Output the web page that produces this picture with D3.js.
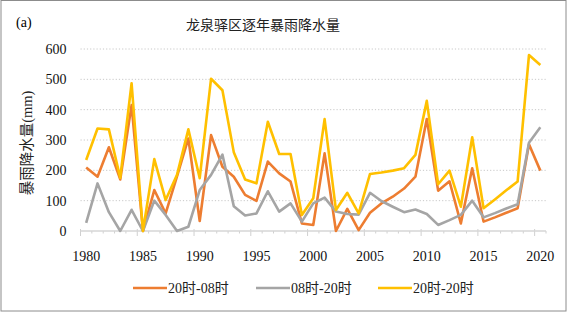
<!DOCTYPE html>
<html>
<head>
<meta charset="utf-8">
<script src="https://cdn.jsdelivr.net/npm/d3@7"></script>
<style>
  body { margin: 0; background: #fff; }
  svg { display: block; }
</style>
</head>
<body>
<div id="grafica"></div>
<script>
// datos
anios = d3.range(1980, 2021)
xTicks = [1980, 1985, 1990, 1995, 2000, 2005, 2010, 2015, 2020]
yTicks = [0, 100, 200, 300, 400, 500, 600]

serie_20_08 = [209, 179, 276, 170, 415, 0, 135, 58, 180, 305,
               33, 316, 212, 179, 119, 99, 229, 190, 163, 25,
               20, 256, 0, 73, 3, 60, 91, 113, 140, 179,
               369, 133, 164, 25, 207, 31, 45, 60, 75, 286, 199]
serie_08_20 = [27, 157, 62, 0, 70, 0, 100, 53, 0, 14,
               135, 185, 252, 82, 51, 58, 131, 64, 91, 31,
               91, 110, 64, 56, 54, 126, 99, 80, 62, 71,
               56, 20, 36, 53, 100, 45, 59, 74, 88, 291, 342]
serie_20_20 = [234, 338, 335, 175, 487, 0, 237, 102, 185, 335,
               174, 502, 464, 260, 170, 157, 360, 254, 254, 53,
               108, 369, 69, 126, 58, 188, 193, 199, 207, 251,
               429, 154, 199, 80, 309, 75, 104, 134, 163, 580, 547]

nombres = ['20时-08时', '08时-20时', '20时-20时']
colores = ['#ED7D31', '#A5A5A5', '#FFC000']
series = [serie_20_08, serie_08_20, serie_20_20]

ancho_total = 567
alto_total = 312
margin = { left: 80.5, right: 21, top: 49, bottom: 81 }
ancho = ancho_total - margin.left - margin.right
alto = alto_total - margin.top - margin.bottom

fuente = "'Liberation Serif', 'Noto Sans CJK SC', serif"

svg = d3.select('#grafica')
        .append('svg')
        .attr('width', ancho_total)
        .attr('height', alto_total)

// marco
svg.append('rect')
   .attr('x', 1).attr('y', 0.5)
   .attr('width', ancho_total - 2).attr('height', alto_total - 1.5)
   .attr('fill', 'none')
   .attr('stroke', '#8c8c8c')

svg.append('text')
   .attr('x', 16).attr('y', 27)
   .attr('font-family', fuente)
   .attr('font-size', '14px')
   .text('(a)')

svg.append('text')
   .attr('x', 263).attr('y', 30)
   .attr('text-anchor', 'middle')
   .attr('font-family', fuente)
   .attr('font-size', '14px')
   .attr('fill', '#222')
   .text('龙泉驿区逐年暴雨降水量')

svg.append('text')
   .attr('transform', 'translate(32,143) rotate(-90)')
   .attr('text-anchor', 'middle')
   .attr('font-family', fuente)
   .attr('font-size', '14.5px')
   .attr('fill', '#222')
   .text('暴雨降水量(mm)')

g = svg.append('g')
       .attr('transform', 'translate(' + margin.left + ',' + margin.top + ')')

x = d3.scaleBand()
      .domain(anios)
      .range([0, ancho])
      .padding(0)
y = d3.scaleLinear()
      .domain([0, 600])
      .range([alto, 0])

cx = (d) => x(d) + x.bandwidth() / 2

// rejilla punteada
g.append('g')
 .selectAll('line')
 .data(yTicks.filter((d) => d > 0))
 .enter()
 .append('line')
   .attr('x1', 0).attr('x2', ancho)
   .attr('y1', (d) => y(d)).attr('y2', (d) => y(d))
   .attr('stroke', '#C8C8C8')
   .attr('stroke-width', 1)
   .attr('stroke-dasharray', '1.2,2')

// eje Y
yAxisCall = d3.axisLeft(y).tickValues(yTicks).tickSize(0).tickPadding(14)
yGroup = g.append('g').call(yAxisCall)
yGroup.select('.domain').remove()
yGroup.selectAll('text')
      .attr('font-family', fuente)
      .attr('font-size', '14px')
      .attr('fill', '#111')

// eje X
xAxisCall = d3.axisBottom(x).tickValues(xTicks).tickSize(0).tickPadding(20)
xGroup = g.append('g')
          .attr('transform', `translate(0, ${alto})`)
          .call(xAxisCall)
xGroup.select('.domain').remove()
xGroup.selectAll('text')
      .attr('font-family', fuente)
      .attr('font-size', '14px')
      .attr('fill', '#111')

bordes = anios.map((d) => x(d)).concat([ancho])
g.append('g')
 .selectAll('line')
 .data(bordes)
 .enter()
 .append('line')
   .attr('x1', (d) => d).attr('x2', (d) => d)
   .attr('y1', (d, i) => i % 5 == 0 && i < anios.length ? alto - 2 : alto)
   .attr('y2', (d, i) => i % 5 == 0 && i < anios.length ? alto + 5 : alto + 2.5)
   .attr('stroke', '#D0D0D0')
   .attr('stroke-width', 1)

g.append('line')
 .attr('x1', 0).attr('x2', ancho)
 .attr('y1', alto).attr('y2', alto)
 .attr('stroke', '#D6D6D6')
 .attr('stroke-width', 1.4)

// lineas
linea = d3.line()
          .x((d, i) => cx(anios[i]))
          .y((d) => y(d))

g.selectAll('path.serie')
 .data(series)
 .enter()
 .append('path')
   .attr('class', 'serie')
   .attr('d', (d) => linea(d))
   .attr('fill', 'none')
   .attr('stroke', (d, i) => colores[i])
   .attr('stroke-width', 2.6)
   .attr('stroke-linejoin', 'round')

// leyenda
leyendaX = [133, 256, 378]
leyenda = svg.selectAll('g.leyenda')
             .data(nombres)
             .enter()
             .append('g')
               .attr('class', 'leyenda')
               .attr('transform', (d, i) => 'translate(' + leyendaX[i] + ',288)')
leyenda.append('line')
       .attr('x1', 0).attr('x2', 34)
       .attr('stroke', (d, i) => colores[i])
       .attr('stroke-width', 2.6)
leyenda.append('text')
       .attr('x', 35).attr('y', 5)
       .attr('font-family', fuente)
       .attr('font-size', '14px')
       .attr('fill', '#222')
       .text((d) => d)
</script>
</body>
</html>
